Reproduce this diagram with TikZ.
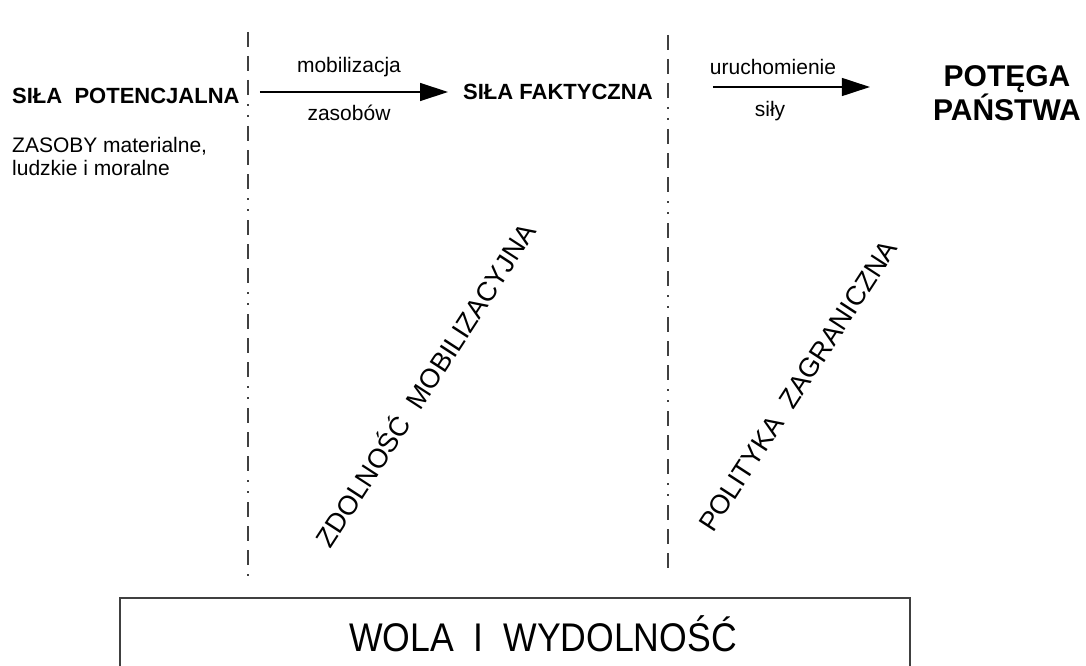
\documentclass[tikz,border=0pt]{standalone}
\usepackage{fontspec}
\setmainfont{Liberation Sans}
\newfontfamily\narrowfont[FakeStretch=0.89]{Liberation Sans}
\usetikzlibrary{arrows.meta}

\begin{document}
\begin{tikzpicture}[x=1pt, y=1pt,
      head/.style = {
        font=\fontsize{22}{26}\selectfont\bfseries, inner sep=0pt },
      big-head/.style = {
        font=\fontsize{30}{31}\selectfont\bfseries, inner sep=0pt, align=center },
      small-text/.style = {
        font=\fontsize{21}{23}\selectfont, inner sep=0pt },
      slanted-text/.style = {
        font=\fontsize{27}{30}\selectfont, inner sep=0pt, rotate=57 },
      line/.style = { draw, line width=1.3pt, -{Triangle[length=28pt, width=18pt]} },
      line-dashdot/.style = { draw=black!75, line width=1.5pt,
        dash pattern=on 15pt off 9pt on 15pt off 9pt on 15pt off 9pt on 2pt off 9pt on 2pt off 9pt }]
    \clip (0,0) rectangle (1086,-666);
    \node [head, anchor=base west] (potencjalna) at (12,-103) {SIŁA\ \ POTENCJALNA};
    \node [small-text, anchor=north west, align=left] (zasoby) at (12,-137)
      {ZASOBY materialne,\\ludzkie i moralne};
    \node [head, anchor=west] (faktyczna) at (463,-92) {SIŁA FAKTYCZNA};
    \node [big-head] (potega) at (1007,-93) {POTĘGA\\PAŃSTWA};
    \node [slanted-text] (zdolnosc) at (424,-384) {ZDOLNOŚĆ\ \ MOBILIZACYJNA};
    \node [slanted-text] (polityka) at (798,-386) {POLITYKA\ \ ZAGRANICZNA};
    \node [draw=black!75, line width=1.2pt, minimum width=790pt, minimum height=100pt,
      inner sep=0pt] (wola-box) at (515,-648) {};
    \node [font=\narrowfont\fontsize{40}{44}\selectfont, inner sep=0pt] (wola)
      at (543,-634) {WOLA\ \ I\ \ WYDOLNOŚĆ};
    % dash-dot separators
    \draw[line-dashdot] (248,-32) -- (248,-578);
    \draw[line-dashdot] (668,-35) -- (668,-572);
    % arrows between the stages
    \draw[line, shorten <=20pt, shorten >=15pt] (potencjalna.east |- faktyczna.west) -- (faktyczna.west);
    \node [small-text] (mobilizacja) at (349,-67) {mobilizacja};
    \node [small-text] (zasobow) at (349,-113) {zasobów};
    \draw[line, shorten <=60pt, shorten >=63pt] ([yshift=5pt]faktyczna.east) -- ([yshift=5pt]faktyczna.east -| potega.west);
    \node [small-text] (uruchomienie) at (773,-67) {uruchomienie};
    \node [small-text] (sily) at (770,-111) {siły};
  \end{tikzpicture}
\end{document}
